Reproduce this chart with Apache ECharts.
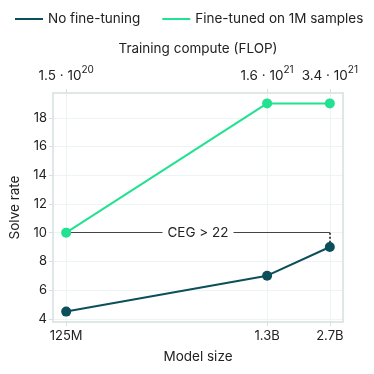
<!DOCTYPE html>
<html>
<head>
<meta charset="utf-8">
<script src="https://cdn.jsdelivr.net/npm/echarts@6/dist/echarts.min.js"></script>
<style>
  html, body { margin: 0; padding: 0; background: #fff; }
  #chart { width: 374px; height: 374px; }
</style>
</head>
<body>
<div id="chart"></div>
<script>
// model sizes (parameters) and their labels
const modelSizes = [1.25e8, 1.3e9, 2.7e9];
const sizeLabels = ['125M', '1.3B', '2.7B'];
// training compute labels for the top axis: [mantissa, exponent]
const computeLabels = [['1.5', '20'], ['1.6', '21'], ['3.4', '21']];
const yTicks = [4, 6, 8, 10, 12, 14, 16, 18];

const noFineTuning = [4.5, 7, 9];
const fineTuned = [10, 19, 19];
const cegLabel = 'CEG > 22';

const FONT = 'Inter, "DejaVu Sans", sans-serif';
const DARK = '#0b4f5a';
const GREEN = '#22e190';
const SPINE = '#d5e0e0';
const GRID = '#eef3f3';

// matplotlib-like 5% margins on log x
const lx = modelSizes.map(v => Math.log10(v));
const lspan = lx[2] - lx[0];
const xMin = Math.pow(10, lx[0] - 0.05 * lspan);
const xMax = Math.pow(10, lx[2] + 0.05 * lspan);

const pairs = arr => arr.map((v, i) => [modelSizes[i], v]);
const sizeIndex = v => modelSizes.findIndex(m => Math.abs(m - v) / m < 1e-6);

const chart = echarts.init(document.getElementById('chart'));
chart.setOption({
  animation: false,
  textStyle: { fontFamily: FONT },
  grid: { left: 53, right: 31, top: 93, bottom: 52 },
  legend: {
    top: 7,
    left: 10,
    itemWidth: 28,
    itemHeight: 2,
    itemGap: 22,
    icon: 'rect',
    textStyle: { fontFamily: FONT, fontSize: 13.5, color: '#222' },
    data: ['No fine-tuning', 'Fine-tuned on 1M samples']
  },
  xAxis: [
    {
      type: 'log',
      min: xMin,
      max: xMax,
      name: 'Model size',
      nameLocation: 'middle',
      nameGap: 28,
      nameTextStyle: { fontSize: 13.5, color: '#222' },
      axisLine: { show: true, onZero: false, lineStyle: { color: SPINE, width: 1.5 } },
      axisTick: { show: true, customValues: modelSizes, length: 4, lineStyle: { color: SPINE } },
      axisLabel: {
        customValues: modelSizes,
        fontSize: 13,
        color: '#222',
        margin: 8,
        formatter: v => {
          const i = sizeIndex(v);
          return i >= 0 ? sizeLabels[i] : '';
        }
      },
      splitLine: { show: true, customValues: modelSizes, lineStyle: { color: GRID } }
    },
    {
      type: 'log',
      position: 'top',
      min: xMin,
      max: xMax,
      name: 'Training compute (FLOP)',
      nameLocation: 'middle',
      nameGap: 37,
      nameTextStyle: { fontSize: 13.5, color: '#222' },
      axisLine: { show: true, onZero: false, lineStyle: { color: SPINE, width: 1.5 } },
      axisTick: { show: true, customValues: modelSizes, length: 4, lineStyle: { color: SPINE } },
      axisLabel: {
        customValues: modelSizes,
        color: '#222',
        margin: 10,
        formatter: v => {
          const i = sizeIndex(v);
          if (i < 0) return '';
          return '{m|' + computeLabels[i][0] + ' \u00b7 10}{e|' + computeLabels[i][1] + '}';
        },
        rich: {
          m: { fontFamily: FONT, fontSize: 13.5, color: '#222', verticalAlign: 'bottom' },
          e: { fontFamily: FONT, fontSize: 10, color: '#222', verticalAlign: 'top', padding: [0, 0, 8, 0] }
        }
      },
      splitLine: { show: false }
    }
  ],
  yAxis: [
    {
      type: 'value',
      min: 3.775,
      max: 19.725,
      interval: 2,
      name: 'Solve rate',
      nameLocation: 'middle',
      nameGap: 26,
      nameTextStyle: { fontSize: 13.5, color: '#222' },
      axisLine: { show: true, lineStyle: { color: SPINE, width: 1.5 } },
      axisTick: { show: true, customValues: yTicks, length: 4, lineStyle: { color: SPINE } },
      axisLabel: {
        customValues: yTicks,
        fontSize: 13,
        color: '#222',
        margin: 6
      },
      splitLine: { show: true, customValues: yTicks, lineStyle: { color: GRID } }
    },
    {
      type: 'value',
      position: 'right',
      min: 3.775,
      max: 19.725,
      axisLine: { show: true, lineStyle: { color: SPINE, width: 1.5 } },
      axisTick: { show: false },
      axisLabel: { show: false },
      splitLine: { show: false }
    }
  ],
  series: [
    {
      name: 'No fine-tuning',
      type: 'line',
      data: pairs(noFineTuning),
      symbol: 'circle',
      symbolSize: 10,
      color: DARK,
      lineStyle: { width: 2, color: DARK },
      itemStyle: { color: DARK },
      z: 5
    },
    {
      name: 'Fine-tuned on 1M samples',
      type: 'line',
      data: pairs(fineTuned),
      symbol: 'circle',
      symbolSize: 10,
      color: GREEN,
      lineStyle: { width: 2, color: GREEN },
      itemStyle: { color: GREEN },
      z: 5
    },
    {
      // compute-equivalent gain annotation
      type: 'line',
      silent: true,
      data: [],
      markLine: {
        silent: true,
        symbol: 'none',
        animation: false,
        data: [
          [
            { coord: [modelSizes[0], fineTuned[0]], lineStyle: { color: '#444', width: 1, type: 'solid' },
              label: { show: true, position: 'insideMiddle', formatter: cegLabel, fontFamily: FONT, fontSize: 13.5, color: '#222',
                       backgroundColor: '#fff', padding: [2, 5] } },
            { coord: [modelSizes[2], fineTuned[0]] }
          ],
          [
            { coord: [modelSizes[2], fineTuned[0]], lineStyle: { color: '#111', width: 1.5, type: [2, 2] }, label: { show: false } },
            { coord: [modelSizes[2], noFineTuning[2]] }
          ]
        ]
      },
      z: 3
    }
  ]
});
</script>
</body>
</html>
